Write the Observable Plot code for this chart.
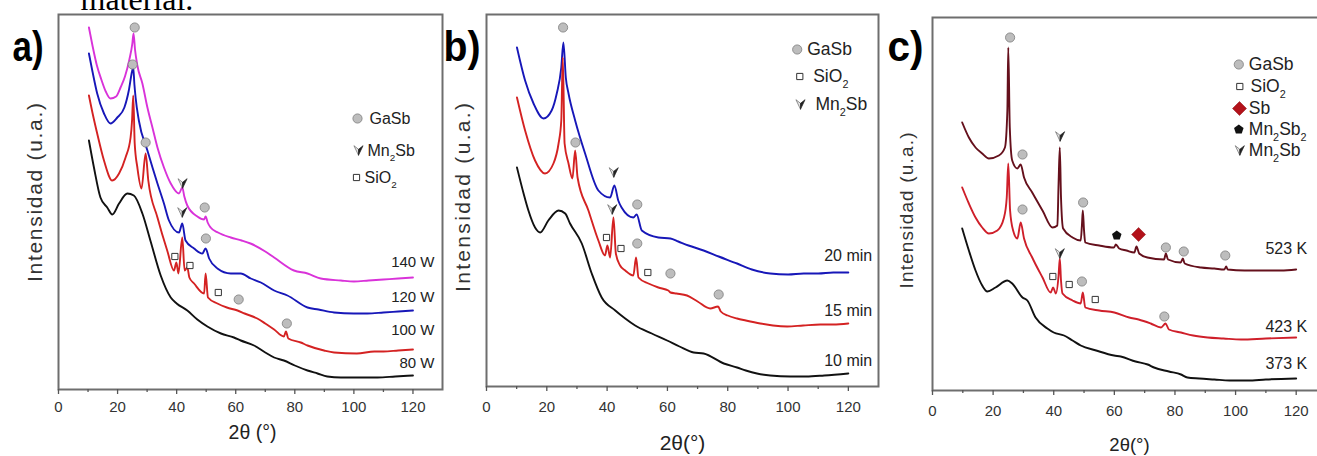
<!DOCTYPE html>
<html><head><meta charset="utf-8">
<script src="https://cdn.jsdelivr.net/npm/d3@7"></script>
<script src="https://cdn.jsdelivr.net/npm/@observablehq/plot@0.6"></script>
<style>
html,body{margin:0;padding:0;background:#fff;overflow:hidden;}
#page{position:relative;width:1317px;height:456px;overflow:hidden;background:#fff;}
#page svg{position:absolute;top:0;}
</style></head><body><div id="page"></div>
<script>
// ---------- DATA (2θ in degrees, intensity in arbitrary units) ----------
const majorTicks = [0, 20, 40, 60, 80, 100, 120];
const minorTicks = [10, 30, 50, 70, 90, 110];

// Panel a) – power series
const a140W = [[10.3,362],[11.5,344],[13,324],[14.5,310],[16,298],[17.6,291],[19.5,293],[21,302],[22.5,313],[24,330],[25,346],[25.4,356],[25.9,340],[26.7,324],[28.4,306],[30.1,282],[31.8,262],[33.5,242],[35.7,222],[38,206],[40.8,196],[41.9,202],[42.6,193],[43.6,184],[47,173],[49.3,170],[49.8,173],[50.5,167],[51.5,162],[54,157],[58.3,152],[62,149],[65,146],[70,138],[73,132],[79.7,119],[84.3,116],[88.8,111],[95.6,109],[100,108],[105,109],[110,110],[115,111],[120,112]];
const a120W = [[10.3,336],[11.5,318],[13.1,296],[15.4,276],[17.6,266],[19.9,272],[22.3,282],[23.8,299],[24.9,318],[25.3,322],[25.7,305],[26.1,292],[27.2,269],[30.1,239],[33.5,206],[35.7,186],[37.4,169],[40.8,157],[41.9,166],[43,149],[45.9,141],[48.7,136],[49.8,141],[51,131],[53.8,121],[58.3,116],[61.7,116],[65.1,111],[68.5,107],[73,99],[77.5,94],[84.3,82],[88,80],[93.3,77],[100,76],[104.6,76],[110,77],[115,78],[120,79]];
const a100W = [[10.3,294],[11.7,274],[13.1,256],[15.4,229],[18.2,209],[20.5,216],[22.7,232],[24.4,252],[24.9,269],[25.3,294],[25.8,246],[26.7,222],[28.1,201],[29.5,236],[30.4,209],[33.5,172],[36.8,139],[39.1,119],[39.9,127],[40.6,116],[41.9,152],[42.7,119],[43.6,122],[44.3,112],[45.9,106],[49.3,96],[49.8,116],[50.6,92],[53.8,86],[57,82],[60.6,79],[63,76],[67.3,71],[70,66],[73,60],[76.3,53],[77,58],[77.8,51],[82,47],[84.3,44],[89.9,39],[93.3,37],[101,36],[106.9,38],[110,38],[115,39],[120,40]];
const a80W = [[10.3,249],[12,222],[14.2,192],[16.5,182],[18.2,175],[20.5,186],[23.3,196],[25.5,194],[28.4,176],[31.2,148],[34.6,114],[38,92],[40,86],[43.6,79],[47,70],[50.4,63],[55,56],[59.4,52],[61.7,49],[66.2,44],[70,37],[73,32],[76.3,29],[80,24],[84.3,19],[87.7,16],[91,13],[95.6,12],[100,12],[108,12],[114,13],[120,14]];
const aGaSb = [[25.8,362],[25.1,325],[29.5,247],[49.5,182],[49.9,151],[61,90],[77.3,66]];
const aMn2Sb = [[42,206],[41.9,177]];
const aSiO2 = [[39.4,133],[44.5,124],[54.1,97]];
const aLabels = ["140 W", "120 W", "100 W", "80 W"];

// Panel b) – time series
const b20min = [[10.1,339],[12.8,306],[15.6,283],[18.9,268],[21.6,276],[23.3,293],[24.8,319],[25.5,344],[26.3,309],[27.2,293],[29.4,266],[32.7,233],[37.1,196],[41,189],[42.4,201],[43.7,186],[44.8,179],[48.7,169],[49.8,172],[51.5,156],[57,149],[61,148],[63.6,145],[67,141],[72,136],[77,130],[83.1,123],[88,117],[94.1,113],[100,112],[105.2,113],[110,113],[115,114],[120,114]];
const b15min = [[10.1,289],[12.8,256],[16.1,226],[19.4,213],[22.2,223],[23.9,243],[24.8,266],[25.3,329],[25.9,243],[27.2,223],[28.5,208],[29.4,236],[30.2,209],[33.8,176],[37.1,146],[39.3,131],[40.1,141],[41,129],[42.1,169],[42.9,133],[44.3,121],[46,116],[48.7,111],[49.6,129],[50.4,109],[53.7,103],[57,99],[60.3,96],[61,94],[63,93],[66.5,91],[70,85],[74.2,78],[76.8,80],[77.7,75],[80,71],[83.1,68],[86,66],[90.8,63],[95,61],[99.7,60],[105,61],[110.7,62],[115,62],[120,63]];
const b10min = [[10.1,219],[12.3,193],[13.9,176],[16.1,159],[17.8,154],[20.5,166],[23.9,176],[26.1,173],[27.7,163],[31.6,143],[34.9,113],[38.2,89],[42.7,76],[46,68],[49.3,61],[54.8,53],[59.9,46],[64,40],[68.7,34],[72,33],[78.7,23],[83.1,19],[86,16],[89.7,13],[94.1,11],[100.8,10],[106,10],[112,11],[120,13]];
const bGaSb = [[25.4,359],[29.5,244],[50,182],[50,143],[61,113],[77,92]];
const bMn2Sb = [[42.2,214],[41.7,177]];
const bSiO2 = [[39.8,149],[44.6,138],[53.5,114]];
const bLabels = ["20 min", "15 min", "10 min"];

// Panel c) – temperature series
const c523K = [[9.8,268],[12,253],[14.2,243],[16.4,237],[18.6,232],[21.9,235],[23.9,243],[24.7,280],[25,343],[25.5,263],[26.3,230],[28,222],[29.1,226],[30.2,213],[32.9,198],[36.3,180],[39.6,163],[41.2,165],[41.6,207],[42,243],[42.4,193],[43.1,162],[46.2,153],[48.9,150],[49.3,165],[49.6,180],[50,160],[50.4,148],[55,145],[59.9,143],[60.5,146],[61.6,142],[64,140],[66.6,138],[67.3,144],[68.2,137],[70.9,133],[76.4,131],[77,137],[77.7,131],[81.9,128],[82.6,132],[83.2,127],[88.6,123],[93,122],[96.3,121],[96.9,124],[97.4,121],[103,120],[109.5,120],[115,120],[120,121]];
const c423K = [[9.8,203],[12,187],[14.2,173],[16.4,163],[18.6,157],[21.4,160],[23.6,173],[24.5,193],[25,227],[25.6,180],[26.6,160],[28,152],[29.1,168],[30.2,152],[32.9,133],[36.3,113],[39,98],[39.8,103],[40.7,97],[41.6,115],[42,132],[42.4,110],[42.9,97],[46.2,90],[48.9,87],[49.6,98],[50.4,83],[55,80],[60,78],[64.9,73],[68,71],[72,67],[75.4,63],[76.9,67],[78,61],[82,58],[86,55],[90.8,53],[96,52],[101.8,51],[110,52],[120,53]];
const c373K = [[9.8,162],[12,140],[14.2,120],[16.4,105],[18.1,99],[20.8,103],[24.7,110],[26.3,107],[29.7,93],[31.3,90],[34,73],[37.9,62],[40,58],[43.4,55],[46.2,50],[48.9,45],[54,40],[59.9,35],[62.1,34],[67,29],[71,26],[73.1,23],[78,19],[82,16],[84.1,13],[88,12],[93,11],[98,10],[104,10],[110,11],[120,12]];
const cGaSb = [[25.6,353],[29.7,236],[29.7,181],[49.7,188],[49.3,109],[77,143],[82.9,139],[96.6,135],[76.5,74]];
const cMn2Sb = [[42.1,254],[42,137]];
const cSiO2 = [[39.7,114],[45.1,106],[53.7,91]];
const cMn2Sb2 = [[60.8,155]];
const cSb = [[68,156]];
const cLabels = ["523 K", "423 K", "373 K"];

const legendA = [["GaSb","GaSb"],["Mn2Sb","Mn_2Sb"],["SiO2","SiO_2"]];
const legendB = [["GaSb","GaSb"],["SiO2","SiO_2"],["Mn2Sb","Mn_2Sb"]];
const legendC = [["GaSb","GaSb"],["SiO2","SiO_2"],["Sb","Sb"],["Mn2Sb2","Mn_2Sb_2"],["Mn2Sb","Mn_2Sb"]];

const yTitle = "Intensidad (u.a.)";

// ---------- SYMBOLS / STYLES ----------
const FONT = "'Liberation Sans', Arial, Helvetica, sans-serif";
const pentagon = {draw(ctx, size) {
  const r = Math.sqrt(size / Math.PI);
  for (let i = 0; i < 5; i++) {
    const a = -Math.PI / 2 + i * 2 * Math.PI / 5;
    const px = r * Math.cos(a), py = r * Math.sin(a);
    if (i === 0) ctx.moveTo(px, py); else ctx.lineTo(px, py);
  }
  ctx.closePath();
}};
const arrowL = {draw(ctx, size) {
  const r = Math.sqrt(size / Math.PI);
  ctx.moveTo(0, r); ctx.lineTo(-0.95 * r, -r); ctx.lineTo(0, -0.25 * r); ctx.closePath();
}};
const arrowR = {draw(ctx, size) {
  const r = Math.sqrt(size / Math.PI);
  ctx.moveTo(0, r); ctx.lineTo(0, -0.25 * r); ctx.lineTo(0.95 * r, -r); ctx.closePath();
}};
const SYM = {
  GaSb: [{symbol: "circle", r: 4.6, fill: "#bdbdbd", stroke: "#7c7c7c", strokeWidth: 0.8}],
  SiO2: [{symbol: "square", r: 3.5, fill: "#fff", stroke: "#333", strokeWidth: 1}],
  Sb: [{symbol: "diamond2", r: 6.3, fill: "#b3121a", stroke: "#8a0e14", strokeWidth: 0.5}],
  Mn2Sb2: [{symbol: pentagon, r: 5, fill: "#111"}],
  Mn2Sb: [{symbol: arrowL, r: 4.8, fill: "#e6e6e6", stroke: "#666", strokeWidth: 0.7},
          {symbol: arrowR, r: 4.8, fill: "#222", stroke: "#222", strokeWidth: 0.7}]
};

const page = document.getElementById("page");
const NS = "http://www.w3.org/2000/svg";

function panel(cfg) {
  const H = 456;
  const marks = [];
  marks.push(Plot.frame({stroke: "#6e6e6e", strokeWidth: 2}));
  marks.push(Plot.axisX(majorTicks, {label: null, tickSize: 5, tickPadding: cfg.tickPad, fontSize: cfg.tickFont, stroke: "#555", strokeWidth: 1.3, fill: "#333", tickFormat: d => String(d)}));
  marks.push(Plot.axisX(minorTicks, {label: null, tickSize: 3, tickPadding: 0, stroke: "#555", strokeWidth: 1.3, tickFormat: () => ""}));
  for (const s of cfg.series) {
    marks.push(Plot.line(s.data, {x: d => d[0], y: d => d[1], stroke: s.color, strokeWidth: 1.9, curve: "monotone-x"}));
  }
  for (const [key, pts] of cfg.markers) {
    for (const st of SYM[key]) marks.push(Plot.dot(pts, {x: d => d[0], y: d => d[1], ...st}));
  }
  // legend
  cfg.legend.forEach(([key, label], i) => {
    const L = cfg.legendPos;
    for (const st of SYM[key]) marks.push(Plot.dot([0], {frameAnchor: "top-left", dx: L.mx[i] - cfg.mL, dy: L.y[i] - cfg.mT, ...st}));
    marks.push(Plot.text([label], {text: d => d, frameAnchor: "top-left", dx: L.tx[i] - cfg.mL, dy: L.y[i] - cfg.mT, textAnchor: "start", lineAnchor: "middle", fontSize: cfg.legendFont, fill: "#222"}));
  });
  // series end labels
  cfg.labels.forEach((lab, i) => {
    marks.push(Plot.text([lab], {text: d => d, frameAnchor: "top-right", dx: cfg.endDx, dy: cfg.endY[i] - cfg.mT, textAnchor: "end", lineAnchor: "middle", fontSize: cfg.endFont, fill: "#222"}));
  });
  // axis titles
  marks.push(Plot.text([cfg.xTitle], {text: d => d, frameAnchor: "bottom", dx: cfg.xTitleDx, dy: cfg.xTitleDy, lineAnchor: "middle", fontSize: cfg.xTitleFont, fill: "#222"}));
  marks.push(Plot.text([yTitle], {text: d => d, frameAnchor: "left", rotate: -90, dx: cfg.yTitleDx, dy: cfg.yTitleDy, lineAnchor: "middle", textAnchor: "middle", fontSize: cfg.yTitleFont, fill: "#333"}));
  // panel letter
  marks.push(Plot.text([cfg.letter], {text: d => d, frameAnchor: "top-left", dx: cfg.letterDx, dy: cfg.letterDy, textAnchor: "start", lineAnchor: "bottom", fontSize: 42, fontWeight: "bold", fill: "#000"}));
  if (cfg.extra) marks.push(...cfg.extra);

  const svg = Plot.plot({
    width: cfg.width, height: H,
    marginLeft: cfg.mL, marginRight: 2, marginTop: cfg.mT, marginBottom: H - cfg.bottom,
    x: {domain: [0, 130], label: null},
    y: {domain: [0, cfg.bottom - cfg.mT], axis: null, label: null},
    style: {background: "transparent", color: "#333", fontFamily: FONT, overflow: "visible"},
    marks
  });
  svg.style.left = cfg.left + "px";
  // post-process: fitted lengths and subscripts
  svg.querySelectorAll("text").forEach(el => {
    const s = el.textContent;
    if (s === yTitle) { el.setAttribute("textLength", cfg.yTitleLen); el.setAttribute("lengthAdjust", "spacing"); }
    if (s === cfg.letter) { el.setAttribute("textLength", cfg.letterLen); el.setAttribute("lengthAdjust", "spacingAndGlyphs"); }
    if (s.includes("_")) {
      const fs = cfg.legendFont;
      const parts = s.split(/_(\d)/);
      el.textContent = "";
      parts.forEach((p, i) => {
        if (!p) return;
        const t = document.createElementNS(NS, "tspan");
        t.textContent = p;
        if (i % 2 === 1) { t.setAttribute("font-size", (fs * 0.62).toFixed(1)); t.setAttribute("dy", (fs * 0.32).toFixed(1)); }
        else if (i > 0) { t.setAttribute("dy", (-fs * 0.32).toFixed(1)); }
        el.appendChild(t);
      });
    }
  });
  page.appendChild(svg);
}

panel({
  left: 0, width: 444, mL: 58, mT: 14, bottom: 389,
  tickPad: 7.3, tickFont: 15,
  series: [{data: a140W, color: "#d932d9"}, {data: a120W, color: "#1717b8"}, {data: a100W, color: "#d42222"}, {data: a80W, color: "#111"}],
  markers: [["GaSb", aGaSb], ["Mn2Sb", aMn2Sb], ["SiO2", aSiO2]],
  legend: legendA, legendFont: 16,
  legendPos: {mx: [357, 358, 356], tx: [369, 367, 364], y: [118, 150, 177]},
  labels: aLabels, endY: [262, 297, 330, 363], endDx: -8, endFont: 15,
  xTitle: "2θ (°)", xTitleDx: 2, xTitleDy: 43, xTitleFont: 19.5,
  yTitleDx: -23, yTitleDy: -9.5, yTitleFont: 21, yTitleLen: 179,
  letter: "a)", letterDx: -46, letterDy: 46, letterLen: 31,
  extra: [Plot.text(["material."], {text: d => d, frameAnchor: "top-left", dx: 22, dy: -5, textAnchor: "start", lineAnchor: "bottom", fontSize: 32, fontFamily: "'Liberation Serif', 'Times New Roman', serif", fill: "#000"})]
});

panel({
  left: 442, width: 438, mL: 44, mT: 14, bottom: 386,
  tickPad: 10, tickFont: 15,
  series: [{data: b20min, color: "#1717b8"}, {data: b15min, color: "#d42222"}, {data: b10min, color: "#111"}],
  markers: [["GaSb", bGaSb], ["Mn2Sb", bMn2Sb], ["SiO2", bSiO2]],
  legend: legendB, legendFont: 17.5,
  legendPos: {mx: [354.7, 357.3, 358], tx: [364.7, 370.7, 373], y: [49, 76, 104]},
  labels: bLabels, endY: [255, 310, 360], endDx: -6.3, endFont: 16,
  xTitle: "2θ(°)", xTitleDx: 0, xTitleDy: 57, xTitleFont: 21,
  yTitleDx: -23, yTitleDy: -3, yTitleFont: 21, yTitleLen: 189,
  letter: "b)", letterDx: -43, letterDy: 46, letterLen: 37
});

panel({
  left: 880, width: 448, mL: 52, mT: 17, bottom: 390,
  tickPad: 9.6, tickFont: 15,
  series: [{data: c523K, color: "#65101c"}, {data: c423K, color: "#cf1f2a"}, {data: c373K, color: "#111"}],
  markers: [["GaSb", cGaSb], ["Mn2Sb", cMn2Sb], ["SiO2", cSiO2], ["Mn2Sb2", cMn2Sb2], ["Sb", cSb]],
  legend: legendC, legendFont: 17.5,
  legendPos: {mx: [358.3, 359.3, 359, 358.3, 359.3], tx: [368.3, 370, 368.3, 368.3, 368.3], y: [64, 86, 108, 129, 150]},
  labels: cLabels, endY: [248, 326, 363], endDx: -19.3, endFont: 16,
  xTitle: "2θ(°)", xTitleDx: 0, xTitleDy: 55, xTitleFont: 18.5,
  yTitleDx: -26, yTitleDy: 6.5, yTitleFont: 19, yTitleLen: 156,
  letter: "c)", letterDx: -45, letterDy: 43, letterLen: 36
});
</script></body></html>
